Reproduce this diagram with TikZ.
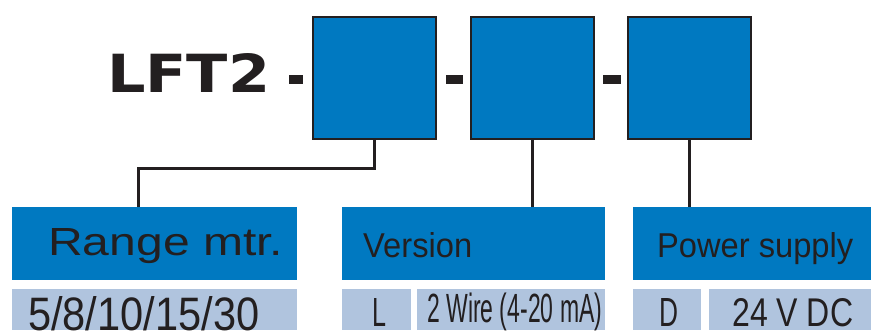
\documentclass[tikz,border=0pt]{standalone}
\usepackage{fontspec}
\setmainfont{Liberation Sans}
\newfontfamily\logofont{DejaVu Sans}
\usepackage{graphicx}
\definecolor{hdr}{HTML}{0079C1}
\definecolor{pale}{HTML}{B0C4DE}
\definecolor{ink}{HTML}{231F20}
\newcommand\fitlbl[3]{\resizebox{#1pt}{#2pt}{#3}}
\begin{document}
\begin{tikzpicture}[x=1pt,y=-1pt,
  codebox/.style={rectangle, draw=ink, line width=2pt, fill=hdr, minimum width=123pt, minimum height=122pt, inner sep=0pt},
  headbox/.style={rectangle, fill=hdr, inner sep=0pt, minimum height=73pt},
  valbox/.style={rectangle, fill=pale, inner sep=0pt, minimum height=41pt},
  lbl/.style={anchor=base west, inner sep=0pt, text=ink},
  link/.style={draw=ink, line width=3pt},
  dashmark/.style={rectangle, fill=ink, inner sep=0pt, minimum height=8.5pt}]
\useasboundingbox (0,0) rectangle (871,330);
% code boxes
\node[codebox] (b1) at (374.5,78) {};
\node[codebox] (b2) at (532,78) {};
\node[codebox] (b3) at (689.5,78) {};
% dashes
\node[dashmark, minimum width=14pt] (d1) at (296,79.5) {};
\node[dashmark, minimum width=17pt] (d2) at (454.5,79.5) {};
\node[dashmark, minimum width=18pt] (d3) at (612,79.5) {};
% title
\node[lbl] (title) at (107,92) {\logofont\bfseries\fitlbl{163}{39}{LFT2}};
% header boxes
\node[headbox, minimum width=285pt] (rng) at (154.5,243.5) {};
\node[headbox, minimum width=263pt] (ver) at (473.5,243.5) {};
\node[headbox, minimum width=238pt] (pwr) at (752,243.5) {};
% value boxes
\node[valbox, minimum width=285pt] (rngv) at (154.5,309.5) {};
\node[valbox, minimum width=69pt] (verc) at (376.5,309.5) {};
\node[valbox, minimum width=188pt] (verv) at (511,309.5) {};
\node[valbox, minimum width=68pt] (pwrc) at (667,309.5) {};
\node[valbox, minimum width=162pt] (pwrv) at (790,309.5) {};
% labels
\node[lbl] (trng) at (48,255) {\fitlbl{235}{27}{Range mtr.}};
\node[lbl] (tver) at (363,257) {\fitlbl{109}{25}{Version}};
\node[lbl] (tpwr) at (657,257) {\fitlbl{196}{25}{Power supply}};
\node[lbl] (trngv) at (28,330) {\fitlbl{231}{34}{5/8/10/15/30}};
\node[lbl] (tverc) at (372,326) {\fitlbl{14}{28}{L}};
\node[anchor=north west, inner sep=0pt, text=ink] (tverv) at (427,293) {\resizebox*{175pt}{38pt}{2 Wire (4-20 mA)}};
\node[lbl] (tpwrc) at (659,326) {\fitlbl{19}{28}{D}};
\node[lbl] (tpwrv) at (732,326) {\fitlbl{121}{28}{24 V DC}};
% connectors
\coordinate (c1) at (138,168);
\draw[link] (b1.south) |- (c1) -- (c1 |- rng.north);
\draw[link] (b2.south) -- (b2.south |- ver.north);
\draw[link] (b3.south) -- (b3.south |- pwr.north);
\end{tikzpicture}
\end{document}
